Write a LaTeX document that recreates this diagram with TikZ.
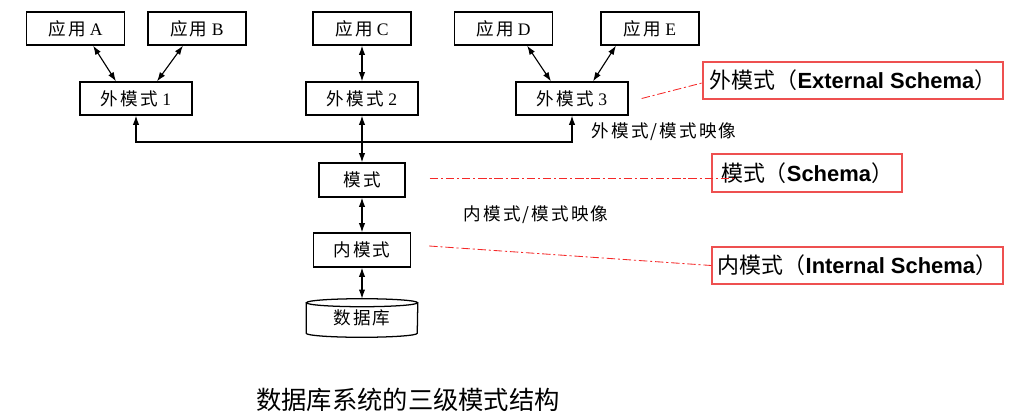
\documentclass[tikz,border=0pt]{standalone}
\usepackage{fontspec}
\setmainfont{Liberation Serif}
\newfontfamily\cjk[LetterSpace=12]{Noto Sans CJK SC}
\newfontfamily\cjkhei{Noto Sans CJK SC}
\newfontfamily\arial{Liberation Sans}
\usetikzlibrary{arrows.meta}
\definecolor{noteRed}{RGB}{238,80,80}
\definecolor{guideRed}{RGB}{245,40,40}
\newcommand\boxfont{\fontsize{12.5}{14}\selectfont}
\newcommand\notefont{\fontsize{15.6}{18}\selectfont}
\tikzset{
  box/.style={draw, line width=0.9pt, minimum height=0.825cm, inner sep=0pt, font=\boxfont},
  appbox/.style={box, minimum width=2.45cm},
  extbox/.style={box, minimum width=2.8cm},
  link/.style={line width=0.8pt, <->},
  notebox/.style={draw=noteRed, line width=0.9pt, minimum height=0.925cm, inner sep=0pt, font=\notefont},
  guide/.style={guideRed, line width=0.6pt, dash pattern=on 6pt off 2pt on 1.5pt off 2pt},
}
\begin{document}
\begin{tikzpicture}[x=0.025cm, y=-0.025cm, >={Latex[length=6.5pt,width=4.5pt]}]
\useasboundingbox (0,0) rectangle (1011,420);
\node [appbox] (appA) at (75.5,28.5) {{\cjk 应用} A};
\node [appbox] (appB) at (197,28.5) {{\cjk 应用} B};
\node [appbox] (appC) at (362,28.5) {{\cjk 应用} C};
\node [appbox] (appD) at (503.5,28.5) {{\cjk 应用} D};
\node [appbox] (appE) at (650,28.5) {{\cjk 应用} E};
\node [extbox] (ext1) at (136,98.5) {{\cjk 外模式} 1};
\node [extbox] (ext2) at (362,98.5) {{\cjk 外模式} 2};
\node [extbox] (ext3) at (572,98.5) {{\cjk 外模式} 3};
\node [box, minimum width=2.15cm, minimum height=0.85cm] (schema) at (362,180) {\cjk 模式};
\node [box, minimum width=2.425cm, minimum height=0.85cm] (internal) at (362,250) {\cjk 内模式};
\node [minimum width=2.775cm, minimum height=0.75cm, inner sep=0pt, font=\boxfont] (db) at (362,318) {\cjk 数据库};
\draw [line width=0.9pt] (db.north west) -- (db.south west) arc (180:360:1.3875cm and 0.1cm) -- (db.north east);
\draw [line width=0.9pt] (db.north) ellipse (1.3875cm and 0.1cm);
\coordinate (bus) at (362,142);
\draw [link] ([xshift=0.44cm]appA.south) -- ([xshift=-0.5cm]ext1.north);
\draw [link] ([xshift=-0.35cm]appB.south) -- ([xshift=0.525cm]ext1.north);
\draw [link] (appC.south) -- (ext2.north);
\draw [link] ([xshift=0.59cm]appD.south) -- ([xshift=-0.525cm]ext3.north);
\draw [link] ([xshift=-0.85cm]appE.south) -- ([xshift=0.525cm]ext3.north);
\draw [link] (ext2.south) -- (schema.north);
\draw [line width=0.8pt, ->] (bus) -| (ext1.south);
\draw [line width=0.8pt, ->] (bus) -| (ext3.south);
\draw [link] (schema.south) -- (internal.north);
\draw [link] (internal.south) -- ([yshift=0.1cm]db.north);
\node [font=\boxfont] (map1) at (664,132) {\cjk 外模式/模式映像};
\node [font=\boxfont] (map2) at (536,215) {\cjk 内模式/模式映像};
\node [notebox, minimum width=7.5cm] (noteExt) at (853,80.5) {{\cjkhei 外模式（}{\arial\bfseries External Schema}{\cjkhei ）}};
\node [notebox, minimum width=4.75cm, minimum height=0.95cm] (noteSch) at (807,173) {{\cjkhei 模式（}{\arial\bfseries Schema}{\cjkhei ）}};
\node [notebox, minimum width=7.275cm] (noteInt) at (857.5,265.5) {{\cjkhei 内模式（}{\arial\bfseries Internal Schema}{\cjkhei ）}};
\draw [guide] ([xshift=0.325cm]ext3.east) -- ([yshift=-0.06cm]noteExt.west);
\draw [guide] ([shift={(0.6cm,0.05cm)}]schema.east) -- ([shift={(0.6cm,0.05cm)}]schema.east -| noteSch.west);
\draw [guide] ([shift={(0.45cm,0.1cm)}]internal.east) -- (noteInt.west);
\node [font=\fontsize{18}{20}\selectfont] (title) at (408,400) {\cjkhei 数据库系统的三级模式结构};
\end{tikzpicture}
\end{document}
